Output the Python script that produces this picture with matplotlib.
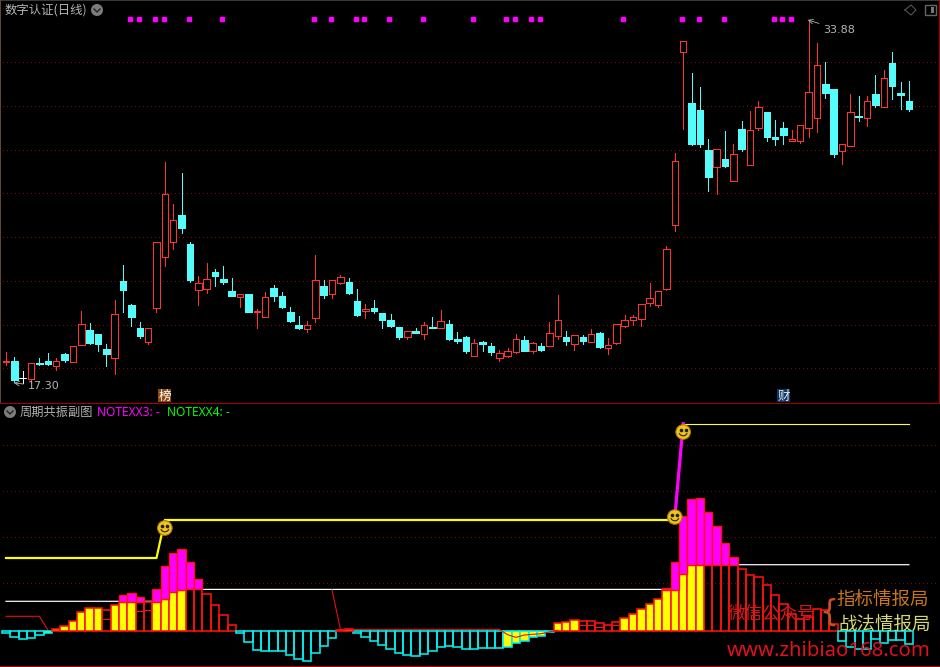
""" Daily candles of 数字认证 with the 周期共振副图 sub chart below them. """
import matplotlib
matplotlib.use("Agg")
import matplotlib.pyplot as plt
import numpy as np
from matplotlib.patches import Ellipse, Rectangle

plt.rcParams["font.family"] = ["Noto Sans CJK SC", "DejaVu Sans"]

opens = [18.27, 18.29, 17.54, 17.48, 18.20, 18.29, 18.09, 18.62, 18.27, 19.05,
         19.72, 19.54, 18.85, 18.46, 21.96, 20.86, 19.81, 19.19, 20.74, 23.07,
         23.75, 24.97, 23.65, 21.56, 21.61, 22.37, 22.05, 21.50, 21.24, 21.36,
         20.56, 20.33, 21.64, 21.27, 20.54, 19.95, 19.78, 20.28, 21.73, 21.38,
         21.88, 21.91, 21.04, 20.60, 20.73, 20.50, 20.18, 19.86, 19.41, 19.67,
         19.55, 19.86, 19.83, 19.99, 19.31, 19.40, 18.55, 19.17, 18.99, 18.46,
         18.55, 18.72, 19.26, 18.78, 18.99, 19.00, 19.46, 19.40, 19.09, 19.40,
         19.19, 19.58, 18.91, 19.14, 19.92, 20.19, 20.21, 20.94, 20.88, 21.61,
         24.53, 32.43, 30.07, 29.77, 27.94, 27.18, 27.53, 26.54, 28.90, 27.27,
         28.96, 29.68, 28.53, 28.95, 28.35, 28.37, 28.96, 29.42, 30.96, 30.73,
         27.91, 28.14, 29.49, 29.42, 30.50, 29.92, 31.91, 30.54, 30.18]
closes = [18.30, 17.44, 17.54, 18.20, 18.17, 18.18, 18.29, 18.35, 18.98, 19.98,
          19.13, 19.08, 18.62, 20.44, 21.55, 20.31, 19.45, 19.80, 23.73, 25.93,
          24.73, 24.39, 22.00, 21.85, 22.04, 22.19, 21.91, 21.27, 21.35, 20.54,
          20.61, 21.21, 21.27, 20.77, 20.13, 19.81, 19.94, 21.99, 21.32, 21.99,
          22.13, 21.41, 20.41, 20.68, 20.59, 20.18, 19.90, 19.40, 19.66, 19.58,
          19.94, 19.81, 20.12, 19.31, 19.22, 18.76, 19.11, 19.08, 18.72, 18.66,
          18.75, 19.30, 18.76, 19.11, 18.81, 19.57, 20.16, 19.22, 19.48, 19.22,
          19.52, 18.94, 19.02, 19.98, 20.16, 20.30, 20.89, 21.17, 21.49, 23.41,
          27.42, 32.91, 28.22, 28.22, 26.71, 27.97, 27.21, 27.74, 27.99, 28.84,
          29.89, 28.53, 28.44, 28.63, 28.44, 29.07, 30.58, 31.81, 30.54, 27.76,
          28.20, 29.66, 29.45, 30.17, 30.00, 31.22, 30.86, 30.45, 29.81]
highs = [18.72, 18.49, 17.85, 18.20, 18.44, 18.67, 18.43, 18.67, 18.98, 20.59,
         20.04, 19.54, 19.08, 21.09, 22.69, 20.91, 20.09, 19.80, 23.73, 27.39,
         25.47, 26.89, 23.74, 22.19, 22.78, 22.51, 22.64, 22.10, 21.35, 21.36,
         20.68, 21.44, 21.78, 21.46, 20.77, 20.36, 20.13, 23.15, 22.00, 21.99,
         22.22, 22.10, 21.59, 20.91, 21.09, 20.50, 20.45, 19.86, 19.66, 19.81,
         20.07, 20.31, 20.63, 20.18, 19.63, 19.45, 19.31, 19.22, 19.13, 18.81,
         18.90, 19.54, 19.45, 19.17, 19.13, 20.09, 21.32, 19.67, 19.48, 19.49,
         19.77, 19.63, 19.36, 19.99, 20.41, 20.41, 20.89, 21.85, 21.49, 23.56,
         27.80, 32.91, 31.46, 30.82, 28.44, 27.97, 28.81, 28.22, 29.27, 29.72,
         30.18, 29.68, 29.31, 29.22, 28.85, 29.07, 33.88, 32.83, 31.96, 30.73,
         28.20, 30.50, 30.41, 30.41, 31.37, 31.59, 32.42, 31.05, 31.09]
lows = [18.12, 17.36, 17.30, 17.31, 18.14, 18.12, 17.89, 18.26, 18.27, 19.05,
        19.08, 18.76, 18.08, 17.71, 20.54, 19.90, 19.36, 19.09, 20.54, 22.64,
        23.42, 24.15, 21.91, 20.86, 21.41, 21.73, 21.82, 21.27, 20.77, 20.54,
        19.81, 20.33, 21.04, 20.73, 20.09, 19.77, 19.63, 20.09, 21.18, 21.18,
        21.84, 21.36, 20.36, 20.27, 20.50, 19.81, 19.86, 19.31, 19.31, 19.58,
        19.31, 19.81, 19.83, 19.26, 19.13, 18.67, 18.55, 18.76, 18.58, 18.30,
        18.49, 18.67, 18.76, 18.67, 18.76, 19.00, 19.31, 19.04, 18.81, 19.08,
        19.19, 18.90, 18.62, 19.08, 19.86, 19.95, 19.90, 20.82, 20.77, 21.55,
        24.24, 28.91, 28.17, 28.08, 26.07, 25.93, 27.16, 26.54, 27.90, 27.27,
        28.85, 28.35, 28.17, 28.22, 28.35, 28.26, 28.53, 28.76, 30.32, 27.62,
        27.30, 28.14, 29.27, 29.04, 29.90, 29.92, 30.27, 29.81, 29.72]
signal_days = [15, 16, 18, 19, 22, 26, 37, 39, 42, 43, 46, 50, 56, 60, 61, 63,
               64, 74, 81, 83, 86, 92, 93, 94]
price_grid = [31.96, 29.95, 27.94, 25.98, 23.97, 21.96, 19.95, 17.99]

osc = [-2.7, -6.7, -8.7, -7.7, -4.7, -2.3, 1.7, 4.7, 9.7, 18.7,
       22.7, 22.7, 20.3, 25.7, 28.7, 28.7, 29.0, 28.3, 28.7, 31.7,
       38.7, 40.7, 41.3, 41.3, 36.3, 25.3, 15.3, 5.3, -2.7, -11.7,
       -19.7, -20.7, -20.7, -20.7, -24.7, -28.7, -30.7, -22.7, -15.7, -7.7,
       0.7, 1.7, -2.7, -6.7, -10.7, -14.7, -18.7, -22.7, -24.7, -25.7,
       -23.7, -20.7, -16.7, -15.7, -16.7, -18.7, -18.7, -17.7, -17.7, -17.7,
       -16.3, -12.3, -10.3, -6.3, -5.3, -1.3, 7.7, 8.7, 10.7, 9.7,
       9.7, 7.3, 5.3, 8.7, 12.7, 16.7, 21.7, 26.7, 31.7, 40.7,
       40.7, 56.7, 65.7, 65.7, 66.0, 66.0, 66.0, 66.0, 61.3, 55.3,
       53.3, 45.3, 35.3, 26.7, 17.0, 11.3, 14.0, 21.3, 20.7, 6.3,
       -10.0, -16.0, -18.0, -18.0, -8.0, -12.0, -9.0, -9.0, -13.7]
yellow_days = [5, 6, 7, 8, 9, 10, 11, 13, 14, 15, 18, 19, 20, 21, 40, 41,
               60, 61, 62, 63, 64, 65, 66, 67, 68, 74, 75, 76, 77, 78, 79,
               80, 81, 82, 83]
magenta_days = [14, 15, 16, 18, 19, 20, 21, 22, 23,
                79, 80, 81, 82, 83, 84, 85, 86, 87]
magenta_tops = [35.7, 37.7, 33.7, 41.7, 64.7, 77.7, 81.7, 68.7, 51.7,
                42.7, 68.7, 114.7, 131.7, 132.7, 118.7, 104.7, 87.7, 73.7]
inner_days = [12, 16, 17, 69, 70, 71, 73]
inner_vals = [11.3, 19.3, 20.3, 5.3, 5.3, 3.3, 5.3]

white_days = [0, 18, 19, 20, 21, 80, 81, 82, 83, 108]
white_vals = [29.4, 29.4, 31.0, 36.0, 41.3, 41.3, 50.0, 61.0, 66.0, 66.0]
red_days_a = [0, 4, 5]
red_vals_a = [14.4, 14.4, 0.7]
red_days_b = [39, 40, 59, 60, 61, 62, 64, 66]
red_vals_b = [40.7, 1.3, 1.3, -4.0, -6.7, -4.3, -3.0, 0.5]
level_days_a = [0, 18, 19, 80]
level_vals_a = [72.7, 72.7, 110.7, 110.7]
level_days_b = [80, 81]
level_vals_b = [113.7, 207.0]
level_days_c = [81, 108]
level_vals_c = [207.0, 207.0]
smile_days = [19, 80, 81]
smile_vals = [102.7, 113.7, 198.7]
sub_grid = [185.7, 139.7, 93.7, 47.7]

RED = "#ff3232"
CYAN = "#54fcfc"
GRID = "#7c0a0a"
PX = 0.72

W, H = 940, 667
fig = plt.figure(figsize=(W / 100, H / 100), dpi=100, facecolor="black")


def label(x, y, text, color="#b4b4b4", size=12, **kw):
    fig.text(x / W, 1 - y / H, text, color=color, fontsize=size * PX, va="center", **kw)


def panel(top, bottom, ylim):
    ax = fig.add_axes([0, 1 - bottom / H, 1, (bottom - top) / H], facecolor="black")
    ax.set_xlim(-0.718, 111.72)
    ax.set_ylim(ylim)
    ax.axis("off")
    return ax


def grid_lines(ax, levels):
    for level in levels:
        ax.plot([-0.35, 111.6], [level, level], color=GRID, lw=1.0 * PX, ls=(0, (1, 3.2)),
                antialiased=False, zorder=1)


def candles(ax):
    idx = np.arange(len(opens))
    o, c = np.array(opens), np.array(closes)
    color = np.where(c > o, RED, np.where(c < o, CYAN, "white"))
    ax.vlines(idx, lows, highs, colors=color, lw=1.0 * PX, antialiased=False, zorder=2)
    ax.bar(idx, np.abs(c - o), bottom=np.minimum(o, c), width=0.78,
           color=np.where(c > o, "black", CYAN), edgecolor=np.where(c > o, RED, CYAN),
           lw=1.0 * PX, antialiased=False, zorder=3)
    flat = o == c
    ax.hlines(o[flat], idx[flat] - 0.45, idx[flat] + 0.45, colors="white", lw=1.0 * PX, zorder=3)


def smiley(ax, x, y):
    rx, ry = 7.3 / 8.36, 7.3
    ax.add_patch(Ellipse((x, y), 2 * rx, 2 * ry, fc="#f2c31c", ec="#a57a10", lw=0.8, zorder=7))
    ax.plot([x - 0.3, x + 0.3], [y + 1.8, y + 1.8], ls="", marker="o", ms=1.6, color="#222200", zorder=8)
    t = np.linspace(np.pi * 1.15, np.pi * 1.85, 12)
    ax.plot(x + 0.5 * np.cos(t), y + 0.2 + 4 * np.sin(t), color="#222200", lw=0.8, zorder=8)


def chevron_button(x, y):
    fig.patches.append(Ellipse((x / W, 1 - y / H), 12 / W, 12 / H, transform=fig.transFigure,
                               fc="#7c7c7c", ec="none"))
    fig.lines.append(plt.Line2D(np.array([x - 3, x, x + 3]) / W,
                                1 - np.array([y - 1, y + 2, y - 1]) / H,
                                transform=fig.transFigure, color="#222222", lw=1.0))


main = panel(0, 403, (16.39, 34.79))
grid_lines(main, price_grid)
candles(main)
main.plot(np.array(signal_days) - 0.15, [33.90] * len(signal_days), ls="", marker="s", ms=3.2,
          color="#ff00ff", zorder=4)
main.annotate("33.88", xy=(95.9, 33.88), xytext=(11, -7), textcoords="offset points", color="#b4b4b4",
              fontsize=8, va="center", family="DejaVu Sans",
              arrowprops=dict(arrowstyle="->", color="#b4b4b4", lw=0.6, shrinkA=1, shrinkB=0))
main.annotate("17.30", xy=(0.95, 17.30), xytext=(10, -2), textcoords="offset points", color="#b4b4b4",
              fontsize=8, va="center", family="DejaVu Sans",
              arrowprops=dict(arrowstyle="->", color="#b4b4b4", lw=0.6, shrinkA=1, shrinkB=0))

sub = panel(404, 667, (-36.3, 226.7))
grid_lines(sub, sub_grid)

days = np.arange(len(osc))
values = np.array(osc)
is_yellow = np.isin(days, yellow_days)
edge = np.where(values > 0, "#ff1010", "#00f0f0")
sub.bar(days[~is_yellow], values[~is_yellow], width=1.0, color="none", edgecolor=edge[~is_yellow],
        lw=1.6 * PX, zorder=3)
sub.bar(days[is_yellow], values[is_yellow], width=1.0, color="#ffff00", edgecolor=edge[is_yellow],
        lw=1.6 * PX, zorder=3)
sub.bar(magenta_days, np.array(magenta_tops) - values[magenta_days], bottom=values[magenta_days],
        width=1.0, color="#ff00ff", edgecolor="#ff1010", lw=1.4 * PX, zorder=3)
sub.hlines(inner_vals, np.array(inner_days) - 0.5, np.array(inner_days) + 0.5,
           colors="#ff1010", lw=1.0 * PX, zorder=3)
sub.plot(red_days_a, red_vals_a, color="#e81010", lw=1.1 * PX, zorder=2)
sub.plot(red_days_b, red_vals_b, color="#e81010", lw=1.1 * PX, zorder=4)
sub.plot(white_days, white_vals, color="white", lw=1.2 * PX, zorder=2.5)
sub.plot(level_days_a, level_vals_a, color="#ffff00", lw=2.2 * PX, zorder=5)
sub.plot(level_days_b, level_vals_b, color="#ff00ff", lw=3.2 * PX, zorder=5)
sub.plot(level_days_c, level_vals_c, color="#ffff30", lw=1.1 * PX, zorder=5)
for x, y in zip(smile_days, smile_vals):
    smiley(sub, x, y)

# frame lines and tags around the two panels
fig.patches.append(Rectangle((0, 1 - 403.9 / H), 1, 1.2 / H, transform=fig.transFigure, fc="#a80000", ec="none"))
fig.patches.append(Rectangle((0, 0), 1, 1.2 / H, transform=fig.transFigure, fc="#a80000", ec="none"))
fig.patches.append(Rectangle((0, 1 - 1 / H), 1, 1 / H, transform=fig.transFigure, fc="#3a3a3a", ec="none"))
fig.patches.append(Rectangle((0, 1 - 403 / H), 1.4 / W, 403 / H, transform=fig.transFigure, fc="#5a463a", ec="none"))
fig.patches.append(Rectangle((1 - 1.2 / W, 1 - 403 / H), 1.2 / W, 403 / H, transform=fig.transFigure, fc="#a80000", ec="none"))
fig.patches.append(Rectangle((158 / W, 1 - 402 / H), 13 / W, 13 / H, transform=fig.transFigure, fc="#8a4a10", ec="none"))
fig.patches.append(Rectangle((777 / W, 1 - 402 / H), 13 / W, 13 / H, transform=fig.transFigure, fc="#0c3a68", ec="none"))
label(158.5, 396, "榜", color="white", size=12.5)
label(777.5, 396, "财", color="#e8e8e8", size=12.5)

label(5, 10, "数字认证(日线)", size=12.4)
chevron_button(97, 10)
fig.lines.append(plt.Line2D(np.array([905, 911, 916, 911, 905]) / W,
                            1 - np.array([10, 5, 10, 15, 10]) / H,
                            transform=fig.transFigure, color="#555555", lw=0.8))
fig.patches.append(Rectangle((925 / W, 1 - 15 / H), 11 / W, 10 / H, transform=fig.transFigure,
                             fc="black", ec="#666666", lw=1.0))
fig.patches.append(Rectangle((931 / W, 1 - 13 / H), 3 / W, 6 / H, transform=fig.transFigure,
                             fc="#777777", ec="none"))
chevron_button(10, 412)
label(20, 412, "周期共振副图", size=12.2)
label(97, 412, "NOTEXX3: -", color="#ff00ff", size=12, family="Noto Sans")
label(167, 412, "NOTEXX4: -", color="#00ff00", size=12, family="Noto Sans")

label(728, 613, "微信公众号", color="#d81818", size=17.5)
label(819, 612, "{", color="#c8501a", size=30, family="DejaVu Sans")
label(836, 601, "指标情报局", color="#c8761a", size=18.5)
label(838, 626, "战法情报局", color="#d8d870", size=18.5)
label(727, 651, "www.zhibiao168.com", color="#e01020", size=20.3, family="Noto Sans")

fig.savefig("out.png", dpi=100, facecolor="black")
